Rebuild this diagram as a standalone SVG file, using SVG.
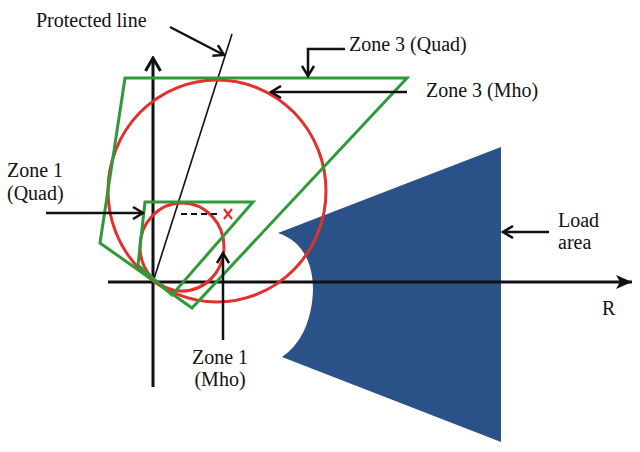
<svg xmlns="http://www.w3.org/2000/svg" width="640" height="452" viewBox="0 0 640 452">
<style>
.t{font-family:"Liberation Serif","Times New Roman",serif;font-size:20px;fill:#111}
.ax{stroke:#111;stroke-width:3;fill:none}
.ptr{stroke:#111;stroke-width:2.5;fill:none}
.grn{stroke:#2f9a3a;stroke-width:3;fill:none;stroke-linejoin:miter}
.red{stroke:#e2302a;stroke-width:3;fill:none}
</style>
<defs>
<marker id="chev" viewBox="0 0 14 14" refX="12" refY="7" markerWidth="14" markerHeight="14" orient="auto" markerUnits="userSpaceOnUse">
<path d="M2,1 L12,7 L2,13" fill="none" stroke="#111" stroke-width="2.5"/>
</marker>
<marker id="chevBig" viewBox="0 0 18 18" refX="16" refY="9" markerWidth="18" markerHeight="18" orient="auto" markerUnits="userSpaceOnUse">
<path d="M3,1.5 L16,9 L3,16.5" fill="none" stroke="#111" stroke-width="3"/>
</marker>
<marker id="tri" viewBox="0 0 18 16" refX="17" refY="8" markerWidth="18" markerHeight="16" orient="auto" markerUnits="userSpaceOnUse">
<path d="M1,1 L17,8 L1,15 L5,8 Z" fill="#111"/>
</marker>
</defs>

<g id="load-area">
<path d="M278,233 L501,147 L501,442 L282,357 C300,345 312,322 313,290 C313,262 302,241 278,233 Z" fill="#2b5189"/>
</g>

<g id="axes">
<line class="ax" x1="153" y1="387" x2="153" y2="58" marker-end="url(#chevBig)"/>
<line class="ax" x1="108" y1="282" x2="632" y2="282" marker-end="url(#tri)"/>
<text class="t" x="602" y="315">R</text>
</g>

<g id="protected-line">
<line x1="153" y1="282" x2="232" y2="34" stroke="#111" stroke-width="1.6"/>
</g>

<g id="zone3-mho">
<ellipse class="red" cx="217" cy="191" rx="109" ry="111"/>
</g>

<g id="zone3-quad">
<polygon class="grn" points="125,78 407,78 192,308 100,243"/>
</g>

<g id="zone1-mho">
<ellipse class="red" cx="182" cy="247" rx="42" ry="44"/>
</g>

<g id="zone1-quad">
<polygon class="grn" points="145,202 253,202 172,295 138,265"/>
</g>

<g id="reach-point">
<line x1="181" y1="214" x2="221" y2="214" stroke="#111" stroke-width="2" stroke-dasharray="6,4"/>
<path d="M224,209 L232,219 M232,209 L224,219" stroke="#e2302a" stroke-width="2.2" fill="none"/>
</g>

<g id="connectors">
<line class="ptr" x1="170" y1="27" x2="224" y2="55" marker-end="url(#chev)"/>
<polyline class="ptr" points="345,49 308,49 308,76" marker-end="url(#chev)"/>
<line class="ptr" x1="407" y1="92" x2="271" y2="92" marker-end="url(#chev)"/>
<line class="ptr" x1="46" y1="213" x2="143" y2="213" marker-end="url(#chev)"/>
<line class="ptr" x1="223" y1="340" x2="223" y2="253" marker-end="url(#chev)"/>
<line class="ptr" x1="549" y1="232" x2="503" y2="232" marker-end="url(#chev)"/>
</g>

<g id="labels">
<text class="t" x="36" y="27">Protected line</text>
<text class="t" x="349" y="51">Zone 3 (Quad)</text>
<text class="t" x="426" y="97">Zone 3 (Mho)</text>
<text class="t" x="7" y="177">Zone 1</text>
<text class="t" x="7" y="200">(Quad)</text>
<text class="t" x="220" y="364" text-anchor="middle">Zone 1</text>
<text class="t" x="220" y="386" text-anchor="middle">(Mho)</text>
<text class="t" x="558" y="227">Load</text>
<text class="t" x="558" y="249">area</text>
</g>
</svg>
